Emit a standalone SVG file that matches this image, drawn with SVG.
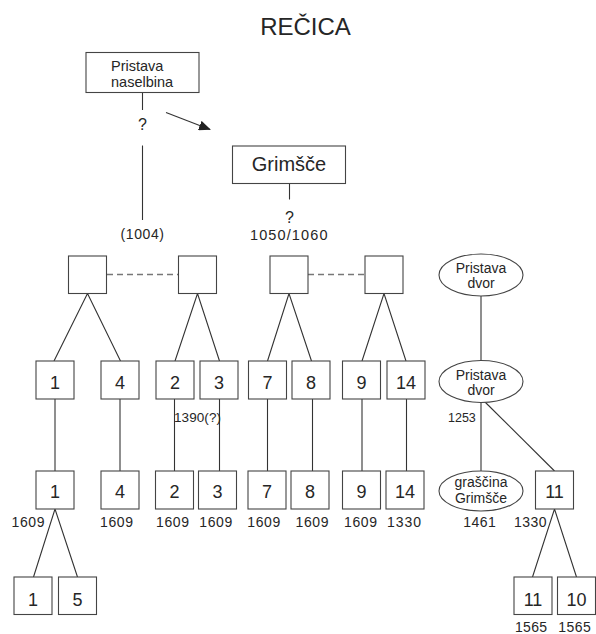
<svg xmlns="http://www.w3.org/2000/svg" width="596" height="634" viewBox="0 0 596 634">
<defs>
<style>
.bx{fill:#fff;stroke:#444;stroke-width:1.1}
.el{fill:#fff;stroke:#444;stroke-width:1.1}
.ln{stroke:#333;stroke-width:1.1;fill:none}
.ds{stroke:#777;stroke-width:1.3;stroke-dasharray:6,4;fill:none}
text{font-family:"Liberation Sans",Arial,sans-serif;fill:#262626}
.num{font-size:18px;text-anchor:middle}
.yr{font-size:14px}
.lab{font-size:14px;text-anchor:middle}
</style>
<marker id="ah" markerWidth="12" markerHeight="10" refX="11" refY="5" orient="auto" markerUnits="userSpaceOnUse">
<path d="M0,0 L12,5 L0,10 Z" fill="#222"/>
</marker>
</defs>
<rect width="596" height="634" fill="#fff"/>
<text x="305.5" y="34.5" font-size="24" text-anchor="middle">REČICA</text>

<g id="connectors">
<line class="ln" x1="142.5" y1="92.5" x2="142.5" y2="110"/>
<line class="ln" x1="142.5" y1="145.5" x2="142.5" y2="220"/>
<line class="ln" x1="166" y1="112.5" x2="210" y2="129.5" marker-end="url(#ah)"/>
<line class="ln" x1="289.5" y1="183.5" x2="289.5" y2="199.5"/>
<line class="ds" x1="107" y1="274.5" x2="178.5" y2="274.5"/>
<line class="ds" x1="308" y1="274.5" x2="365" y2="274.5"/>
<polyline class="ln" points="54,361 87.5,293.5 120.5,361"/>
<polyline class="ln" points="175,361 197.5,293.5 219.5,361"/>
<polyline class="ln" points="267.5,361 289,293.5 311.5,361"/>
<polyline class="ln" points="362,361 384,293.5 406,361"/>
<line class="ln" x1="55" y1="399" x2="55" y2="471"/>
<line class="ln" x1="120" y1="399" x2="120" y2="471"/>
<line class="ln" x1="174.5" y1="399" x2="174.5" y2="471"/>
<line class="ln" x1="219.5" y1="399" x2="219.5" y2="471"/>
<line class="ln" x1="267.5" y1="399" x2="267.5" y2="471"/>
<line class="ln" x1="312.5" y1="399" x2="312.5" y2="471"/>
<line class="ln" x1="362" y1="399" x2="362" y2="471"/>
<line class="ln" x1="406.5" y1="399" x2="406.5" y2="471"/>
<polyline class="ln" points="33.5,577 55,509 77.5,577"/>
<polyline class="ln" points="532.5,577 554.5,509 576.5,577"/>
<line class="ln" x1="481" y1="296" x2="481" y2="360.5"/>
<line class="ln" x1="481" y1="402.5" x2="481" y2="471"/>
<line class="ln" x1="485" y1="402" x2="554.5" y2="471"/>
</g>

<g id="pristava-naselbina">
<rect class="bx" x="86" y="52.5" width="113" height="40"/>
<text x="111" y="70.5" font-size="14.5">Pristava</text>
<text x="111" y="86.5" font-size="14.5">naselbina</text>
<text x="142.5" y="130" font-size="16" text-anchor="middle">?</text>
<text x="120.5" y="239" font-size="14" textLength="43.5">(1004)</text>
</g>

<g id="grimsce">
<rect class="bx" x="232.5" y="146" width="113" height="37.5"/>
<text x="289" y="171" font-size="20" text-anchor="middle">Grimšče</text>
<text x="289.5" y="222.5" font-size="16" text-anchor="middle">?</text>
<text x="250" y="239.5" font-size="14.5" textLength="77.5">1050/1060</text>
</g>

<g id="top-a"><rect class="bx" x="68.5" y="256" width="38" height="37.5"/></g>
<g id="top-b"><rect class="bx" x="178.5" y="256" width="38" height="37.5"/></g>
<g id="top-c"><rect class="bx" x="270" y="256" width="38" height="37.5"/></g>
<g id="top-d"><rect class="bx" x="365" y="256" width="38" height="37.5"/></g>

<g id="r2-1"><rect class="bx" x="36" y="361" width="38" height="38"/><text class="num" x="55" y="388.5">1</text></g>
<g id="r2-4"><rect class="bx" x="101" y="361" width="38" height="38"/><text class="num" x="120" y="388.5">4</text></g>
<g id="r2-2"><rect class="bx" x="156" y="361" width="38" height="38"/><text class="num" x="175" y="388.5">2</text></g>
<g id="r2-3"><rect class="bx" x="200" y="361" width="38" height="38"/><text class="num" x="219" y="388.5">3</text>
<text x="174" y="421.5" font-size="13.5" textLength="47">1390(?)</text></g>
<g id="r2-7"><rect class="bx" x="248.5" y="361" width="38" height="38"/><text class="num" x="267.5" y="388.5">7</text></g>
<g id="r2-8"><rect class="bx" x="292" y="361" width="38" height="38"/><text class="num" x="311" y="388.5">8</text></g>
<g id="r2-9"><rect class="bx" x="342.5" y="361" width="38" height="38"/><text class="num" x="361.5" y="388.5">9</text></g>
<g id="r2-14"><rect class="bx" x="387" y="361" width="38" height="38"/><text class="num" x="406" y="388.5">14</text></g>

<g id="dvor-1"><ellipse class="el" cx="481" cy="275" rx="42" ry="21"/>
<text class="lab" x="481" y="273.3">Pristava</text><text class="lab" x="481" y="288.3">dvor</text></g>
<g id="dvor-2"><ellipse class="el" cx="481" cy="381.5" rx="42" ry="21"/>
<text class="lab" x="481" y="380">Pristava</text><text class="lab" x="481" y="395">dvor</text>
<text x="448" y="421.5" font-size="12.5">1253</text></g>

<g id="r3-1"><rect class="bx" x="36" y="471" width="38" height="38"/><text class="num" x="55" y="498">1</text><text class="yr" x="11.5" y="527" textLength="33">1609</text></g>
<g id="r3-4"><rect class="bx" x="101" y="471" width="38" height="38"/><text class="num" x="120" y="498">4</text><text class="yr" x="100" y="527" textLength="33">1609</text></g>
<g id="r3-2"><rect class="bx" x="155.5" y="471" width="38" height="38"/><text class="num" x="174.5" y="498">2</text><text class="yr" x="156" y="527" textLength="33">1609</text></g>
<g id="r3-3"><rect class="bx" x="198.5" y="471" width="38" height="38"/><text class="num" x="217.5" y="498">3</text><text class="yr" x="199.3" y="527" textLength="33">1609</text></g>
<g id="r3-7"><rect class="bx" x="248" y="471" width="38" height="38"/><text class="num" x="267" y="498">7</text><text class="yr" x="247.3" y="527" textLength="33">1609</text></g>
<g id="r3-8"><rect class="bx" x="291" y="471" width="38" height="38"/><text class="num" x="310" y="498">8</text><text class="yr" x="295.5" y="527" textLength="33">1609</text></g>
<g id="r3-9"><rect class="bx" x="342.5" y="471" width="38" height="38"/><text class="num" x="361.5" y="498">9</text><text class="yr" x="344" y="527" textLength="33">1609</text></g>
<g id="r3-14"><rect class="bx" x="386" y="471" width="38" height="38"/><text class="num" x="405" y="498">14</text><text class="yr" x="387" y="527" textLength="34">1330</text></g>
<g id="grascina"><ellipse class="el" cx="481" cy="491" rx="42" ry="20"/>
<text class="lab" x="481" y="486.5" font-size="13.5">graščina</text><text class="lab" x="481" y="502.5" font-size="13.5">Grimšče</text>
<text class="yr" x="463.3" y="527" textLength="32.5">1461</text></g>
<g id="r3-11"><rect class="bx" x="535.5" y="471" width="38" height="38"/><text class="num" x="554.5" y="498">11</text><text class="yr" x="514" y="527" textLength="32.5">1330</text></g>

<g id="r4-1"><rect class="bx" x="14" y="577" width="38" height="37.5"/><text class="num" x="33" y="605.5">1</text></g>
<g id="r4-5"><rect class="bx" x="58.5" y="577" width="38" height="37.5"/><text class="num" x="77.5" y="605.5">5</text></g>
<g id="r4-11"><rect class="bx" x="514" y="577" width="38" height="37.5"/><text class="num" x="533" y="605.5">11</text><text class="yr" x="515" y="632" textLength="32">1565</text></g>
<g id="r4-10"><rect class="bx" x="557.5" y="577" width="38" height="37.5"/><text class="num" x="576.5" y="605.5">10</text><text class="yr" x="558.3" y="632" textLength="32.5">1565</text></g>
</svg>
